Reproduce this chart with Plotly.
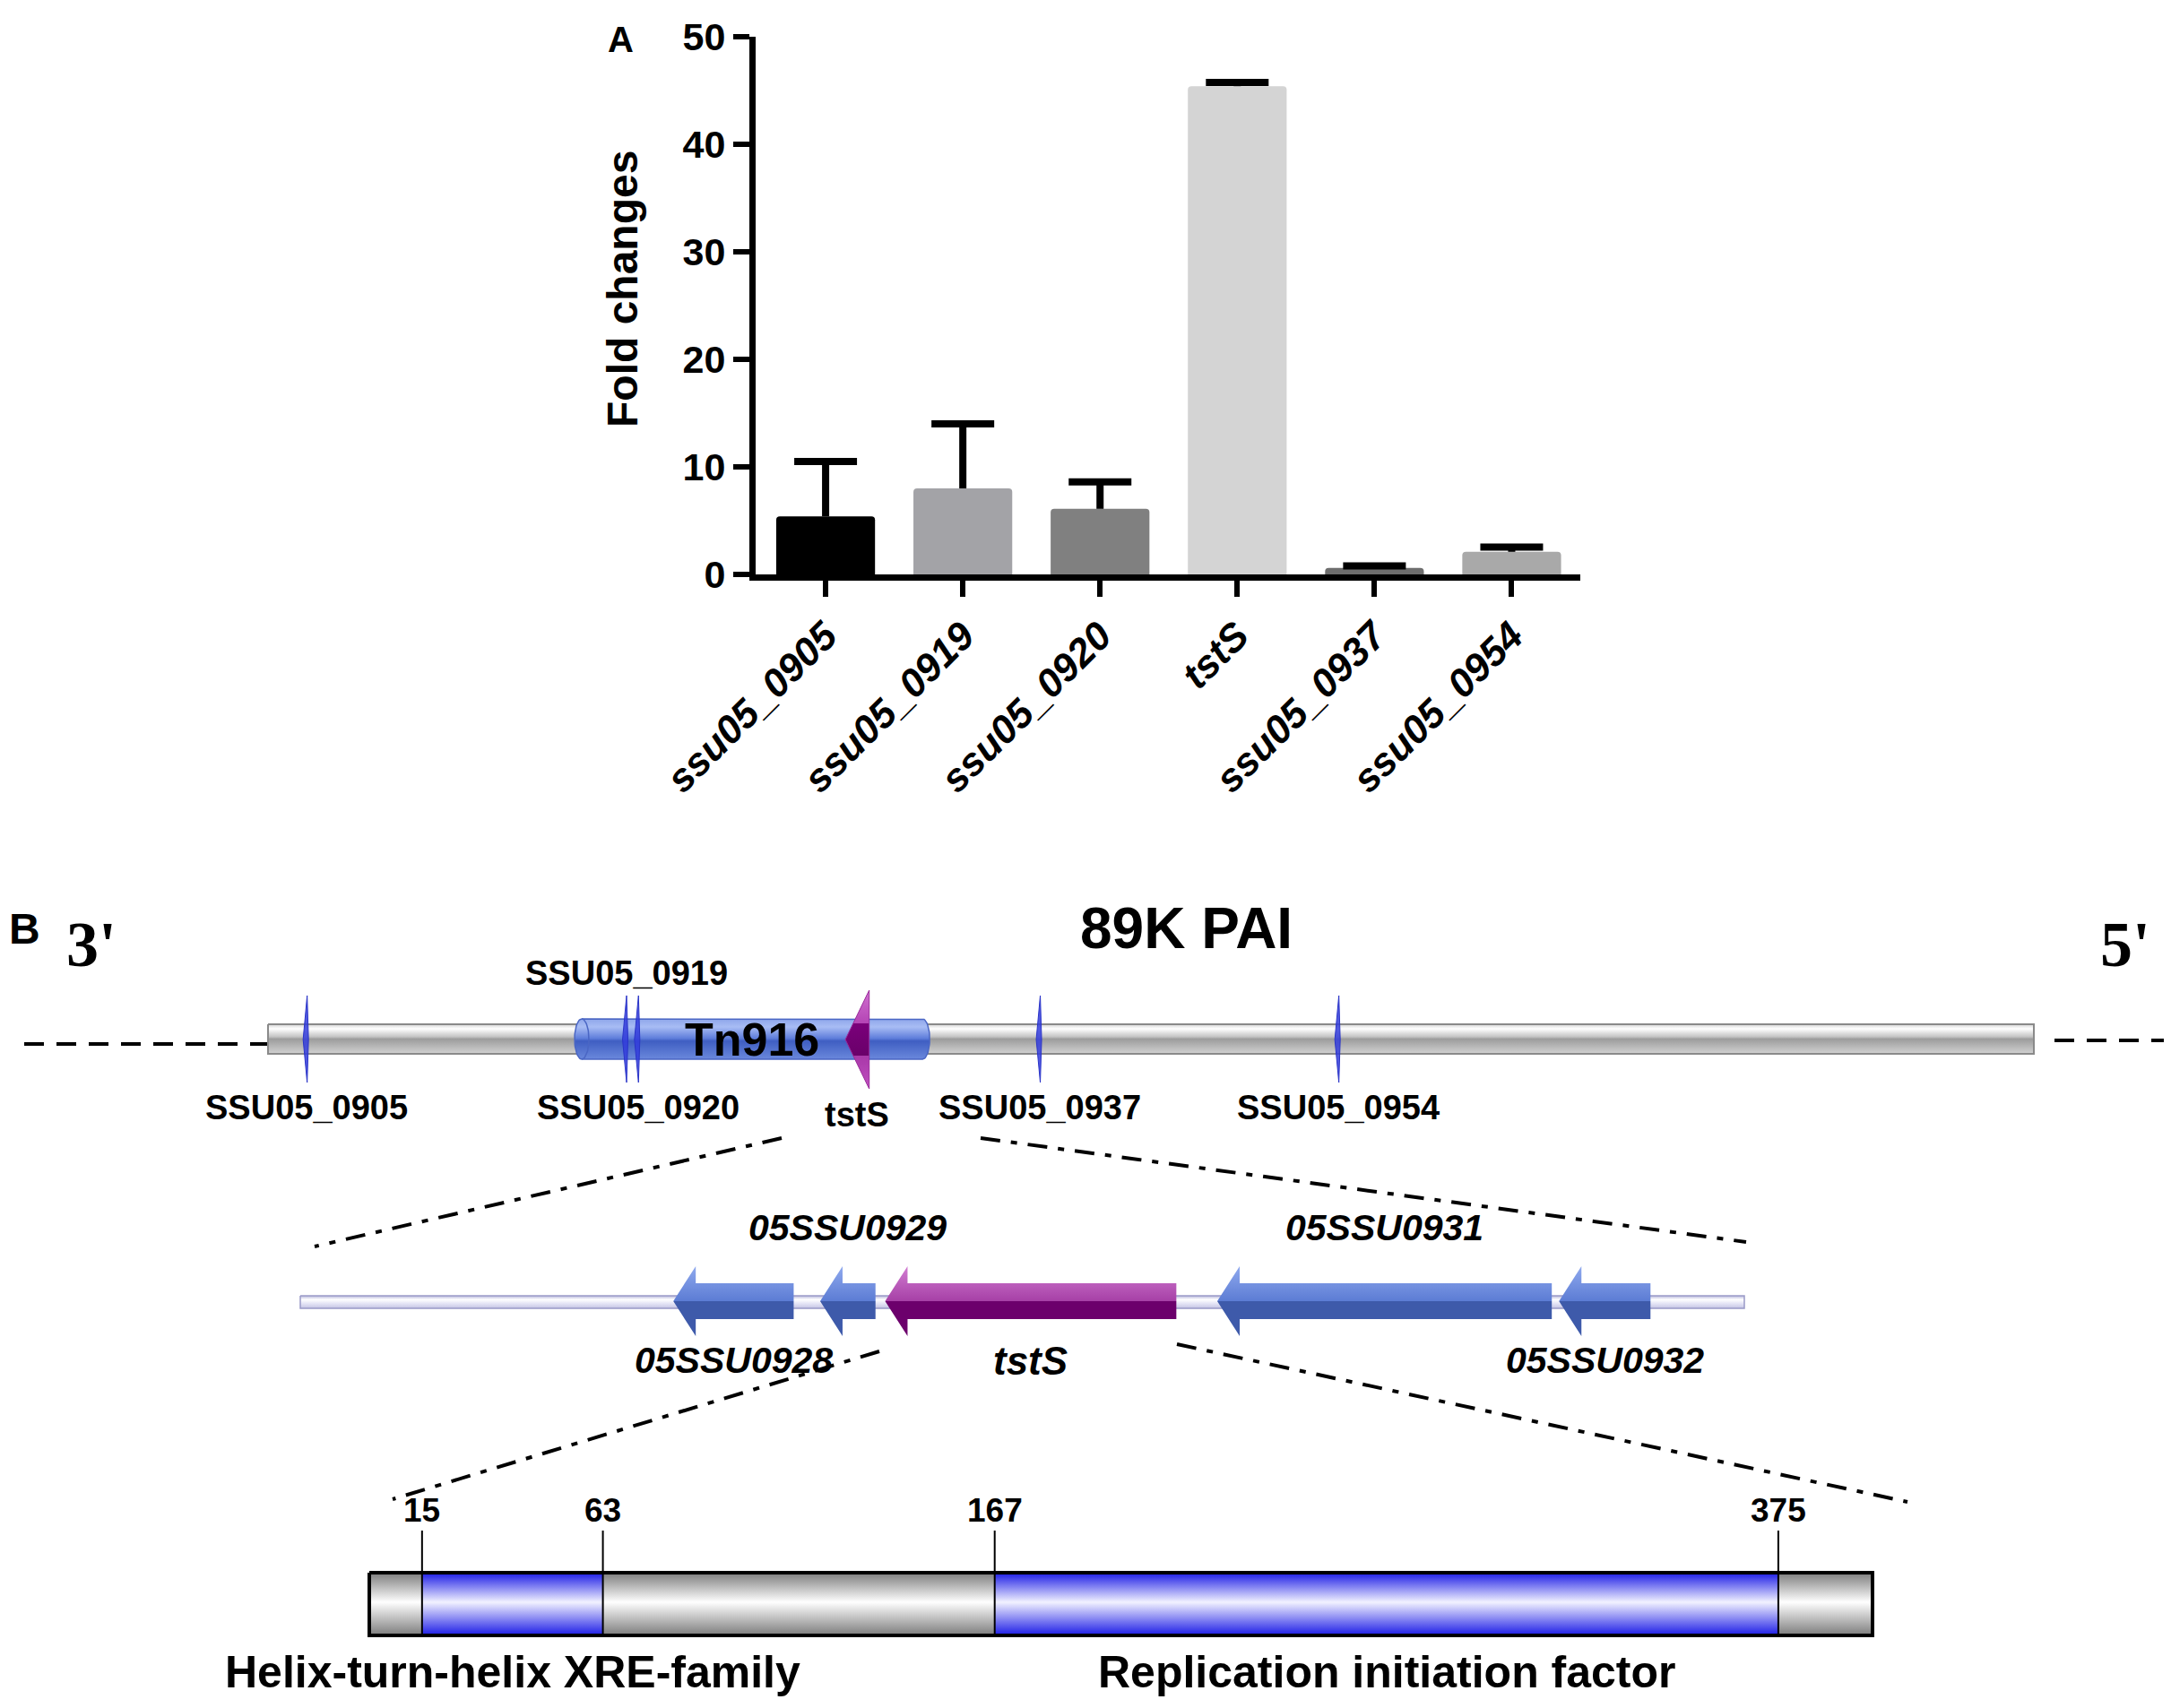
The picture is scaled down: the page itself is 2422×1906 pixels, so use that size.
import numpy as np
import plotly.graph_objects as go

# ---------------- panel A: qRT-PCR fold changes ----------------
genes_a = ["ssu05_0905", "ssu05_0919", "ssu05_0920", "tstS", "ssu05_0937", "ssu05_0954"]
fold_change = [5.4, 8.0, 6.1, 45.4, 0.6, 2.1]
fold_err = [5.1, 6.0, 2.5, 0.35, 0.2, 0.45]
bar_colors = ["#000000", "#a3a3a7", "#808080", "#d4d4d4", "#6e6e6e", "#a9a9a9"]

# ---------------- panel B: 89K PAI map (kb) ----------------
pai_len = 89.0
tn916_kb = [15.45, 33.35]
pai_genes = ["SSU05_0905", "SSU05_0919", "SSU05_0920", "SSU05_0937", "SSU05_0954"]
pai_gene_kb = [1.95, 18.05, 18.65, 38.9, 53.95]
pai_label_side = ["below", "above", "below", "below", "below"]
tsts_kb = [29.1, 30.3]

# zoomed tstS neighbourhood (kb)
region_len = 6.0
region_genes = ["05SSU0928", "05SSU0929", "tstS", "05SSU0931", "05SSU0932"]
region_start = [1.55, 2.16, 2.43, 3.81, 5.23]
region_end = [2.05, 2.39, 3.64, 5.20, 5.61]
region_label_side = ["below", "above", "below", "above", "below"]

# TstS protein domains (aa)
protein_len = 400
domain_names = ["Helix-turn-helix XRE-family", "Replication initiation factor"]
domain_start = [15, 167]
domain_end = [63, 375]

W, H = 2422, 1906
SANS = "Liberation Sans, Arial, sans-serif"
SERIF = "Liberation Serif, Times New Roman, serif"


def full_range(px0, px1, v0, v1):
    s = (v1 - v0) / (px1 - px0)
    return [v0 - px0 * s, v0 + (W - px0) * s]


fig = go.Figure()

fig.add_trace(go.Bar(
    x=genes_a, y=fold_change, width=0.72,
    marker=dict(color=bar_colors, line=dict(width=0), cornerradius=4),
    hoverinfo="skip", showlegend=False,
))
# one-sided error bars (stem + cap only)
sx, sy = [], []
for g, v, e in zip(genes_a, fold_change, fold_err):
    sx += [g, g, None]
    sy += [v, v + e, None]
fig.add_trace(go.Scatter(x=sx, y=sy, mode="lines", line=dict(color="black", width=8),
                         hoverinfo="skip", showlegend=False))
fig.add_trace(go.Scatter(x=genes_a, y=[v + e for v, e in zip(fold_change, fold_err)],
                         mode="markers", hoverinfo="skip", showlegend=False,
                         marker=dict(symbol="line-ew", size=50, line=dict(color="black", width=8))))


def poly(xs, ys, xa, fill=None, cs=None, y0=None, y1=None, lc=None, lw=0):
    kw = dict(x=xs, y=ys, xaxis=xa, yaxis="y2", mode="lines", fill="toself",
              hoverinfo="skip", showlegend=False,
              line=dict(color=lc or "rgba(0,0,0,0)", width=lw))
    if cs is not None:
        kw["fillgradient"] = dict(type="vertical", colorscale=cs, start=y0, stop=y1)
    else:
        kw["fillcolor"] = fill
    fig.add_trace(go.Scatter(**kw))


def line(xs, ys, xa, color="black", width=2, dash=None):
    fig.add_trace(go.Scatter(x=xs, y=ys, xaxis=xa, yaxis="y2", mode="lines",
                             line=dict(color=color, width=width, dash=dash),
                             hoverinfo="skip", showlegend=False))


# dashed flanks and zoom connectors (pixel frame)
line([19, 291], [1157, 1157], "x2", width=4, dash="22px,14px")
line([2284, 2422], [1153, 1153], "x2", width=4, dash="22px,14px")
conn = "22px,12px,7px,12px"
line([864, 343], [1262, 1383], "x2", width=4, dash=conn)
line([1086, 1940], [1262, 1378], "x2", width=4, dash=conn)
line([973, 430], [1500, 1665], "x2", width=4, dash=conn)
line([1305, 2120], [1492, 1668], "x2", width=4, dash=conn)

# ---- top track (x4, kb) ----
ppk = (2261 - 291) / pai_len
gray_cyl = [[0, "#d4d4d4"], [0.15, "#ffffff"], [0.42, "#c4c4c4"], [0.5, "#9c9c9c"], [1, "#d2d2d2"]]
poly([0, pai_len, pai_len, 0, 0], [1135, 1135, 1168, 1168, 1135], "x4",
     cs=gray_cyl, y0=1135, y1=1168, lc="#8a8a8a", lw=2)

# Tn916 cylinder
rx = 8 / ppk
ty0, ty1 = 1129, 1174
tm, tr = (ty0 + ty1) / 2, (ty1 - ty0) / 2
th = np.linspace(-np.pi / 2, np.pi / 2, 30)
xs = ([tn916_kb[0] + rx, tn916_kb[1] - rx] + list(tn916_kb[1] - rx + rx * np.cos(th)) +
      [tn916_kb[1] - rx, tn916_kb[0] + rx] + list(tn916_kb[0] + rx - rx * np.cos(th[::-1])))
ys = ([ty0, ty0] + list(tm + tr * np.sin(th)) + [ty1, ty1] + list(tm + tr * np.sin(th[::-1])))
blue_cyl = [[0, "#8ea6ea"], [0.2, "#a8bcf4"], [0.48, "#5f7edb"], [0.55, "#3f5ec2"], [1, "#6a88dc"]]
poly(xs, ys, "x4", cs=blue_cyl, y0=ty0, y1=ty1, lc="#4a66c4", lw=1.5)
line(list(tn916_kb[0] + rx + rx * np.cos(th)), list(tm + tr * np.sin(th)), "x4", color="#4a66c4", width=1.5)

# small genes as thin left-pointing arrowheads
for g in pai_gene_kb:
    poly([g + 0.5 / ppk, g - 4 / ppk, g + 0.5 / ppk, g + 2 / ppk, g + 0.5 / ppk],
         [1103, 1152, 1200, 1152, 1103], "x4", fill="rgba(50,60,220,0.85)", lc="#2a34c8", lw=1)

mag_head = [[0, "#d070d0"], [0.34, "#b444b4"], [0.34, "#7a007a"], [0.66, "#6a006a"],
            [0.66, "#a838a8"], [1, "#c050c0"]]
poly([tsts_kb[1], tsts_kb[0], tsts_kb[1], tsts_kb[1]], [1097, 1152, 1207, 1097], "x4",
     cs=mag_head, y0=1097, y1=1207, lc="#9a2a9a", lw=1)

# ---- middle track (x5, kb) ----
ppk5 = (1938 - 327) / region_len
lav = [[0, "#b8b8dc"], [0.3, "#ffffff"], [0.6, "#e6e6f6"], [1, "#c4c4e4"]]
poly([0, region_len, region_len, 0, 0], [1438, 1438, 1452, 1452, 1438], "x5",
     cs=lav, y0=1438, y1=1452, lc="#9a9ac8", lw=1.5)

blue_arrow = [[0, "#8fa9ee"], [0.5, "#5c7cd4"], [0.5, "#3e5aaa"], [1, "#3e5aaa"]]
mag_arrow = [[0, "#d27cd2"], [0.5, "#a640a6"], [0.5, "#6c006c"], [1, "#6c006c"]]
hl = 25 / ppk5
for name, s, e in zip(region_genes, region_start, region_end):
    b = s + hl
    poly([s, b, b, e, e, b, b, s], [1444, 1405, 1424, 1424, 1464, 1464, 1483, 1444], "x5",
         cs=mag_arrow if name == "tstS" else blue_arrow, y0=1405, y1=1483)

# ---- protein (x3, aa) ----
edges = [1] + [v for pair in zip(domain_start, domain_end) for v in pair] + [protein_len]
gray_p = [[0, "#7c7c7c"], [0.47, "#ffffff"], [1, "#7c7c7c"]]
blue_p = [[0, "#1c1ce6"], [0.47, "#f2f2ff"], [1, "#1c1ce6"]]
for i in range(len(edges) - 1):
    a, b = edges[i], edges[i + 1]
    poly([a, b, b, a, a], [1747, 1747, 1817, 1817, 1747], "x3",
         cs=blue_p if i % 2 else gray_p, y0=1747, y1=1817)
line([1, protein_len, protein_len, 1, 1], [1747, 1747, 1817, 1817, 1747], "x3", width=4)
for v in edges[1:-1]:
    line([v, v], [1700, 1817], "x3", width=2)

# ---------------- layout ----------------
ann = []


def txt(x, y, t, size, xref="x2", family=SANS, weight="bold", style="normal", angle=0):
    ann.append(dict(x=x, y=y, xref=xref, yref="y2", text=t, showarrow=False,
                    xanchor="center", yanchor="middle", textangle=angle,
                    font=dict(family=family, size=size, color="black", weight=weight, style=style)))


txt(684, 36, "A", 40)
txt(686, 315, "Fold changes", 48, angle=-90)
txt(19, 1028, "B", 48)
txt(94, 1046, "3'", 72, family=SERIF)
txt(2363, 1046, "5'", 72, family=SERIF)
txt(1315, 1028, "89K PAI", 64)
txt(sum(tn916_kb) / 2, 1152, "Tn916", 52, xref="x4")
for name, g, side in zip(pai_genes, pai_gene_kb, pai_label_side):
    txt(g, 1078 if side == "above" else 1228, name, 38, xref="x4")
txt(sum(tsts_kb) / 2, 1236, "tstS", 38, xref="x4")
for name, s, e, side in zip(region_genes, region_start, region_end, region_label_side):
    txt((s + e) / 2, 1362 if side == "above" else 1510, name, 44 if name == "tstS" else 41,
        xref="x5", style="italic")
for v in edges[1:-1]:
    txt(v, 1677, str(v), 37, xref="x3")
for name, s, e in zip(domain_names, domain_start, domain_end):
    txt((s + e) / 2, 1858, name, 50, xref="x3")

hidden = dict(visible=False, showgrid=False, zeroline=False, fixedrange=True)
fig.update_layout(
    width=W, height=H,
    margin=dict(l=0, r=0, t=0, b=0, pad=0, autoexpand=False),
    paper_bgcolor="white", plot_bgcolor="rgba(0,0,0,0)",
    font=dict(family=SANS, color="black"),
    xaxis=dict(domain=[835 / W, 1755 / W], range=[-0.51, 5.5], showline=True, linewidth=7,
               linecolor="black", ticks="outside", ticklen=18, tickwidth=6, tickcolor="black",
               tickangle=-45, showgrid=False, zeroline=False, automargin=False,
               tickfont=dict(family=SANS, size=44, weight="bold", style="italic", color="black")),
    yaxis=dict(domain=[1 - 633 / H, 1 - 33 / H], range=[0, 50], tickvals=[0, 10, 20, 30, 40, 50],
               showline=True, linewidth=7, linecolor="black", ticks="outside", ticklen=18,
               tickwidth=6, tickcolor="black", showgrid=False, zeroline=False, automargin=False,
               tickfont=dict(family=SANS, size=43, weight="bold", color="black")),
    xaxis2=dict(domain=[0, 1], range=[0, W], anchor="y2", **hidden),
    xaxis3=dict(domain=[0, 1], range=full_range(404, 2081, 1, protein_len), anchor="y2", **hidden),
    xaxis4=dict(domain=[0, 1], range=full_range(291, 2261, 0, pai_len), anchor="y2", **hidden),
    xaxis5=dict(domain=[0, 1], range=full_range(327, 1938, 0, region_len), anchor="y2", **hidden),
    yaxis2=dict(domain=[0, 1], range=[H, 0], anchor="x2", **hidden),
    annotations=ann,
)

fig.write_html("out.html")
